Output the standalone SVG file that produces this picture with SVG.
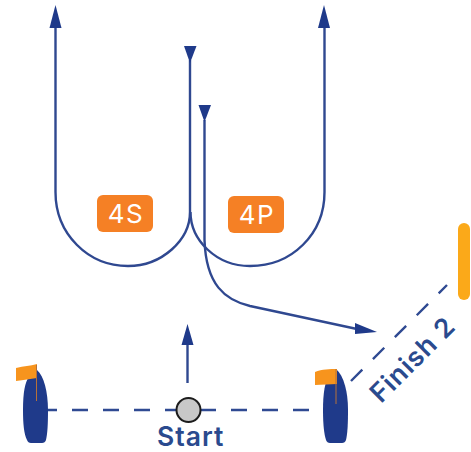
<svg xmlns="http://www.w3.org/2000/svg" width="471" height="452" viewBox="0 0 471 452">
<style>
.route{fill:none;stroke:#2f4890;stroke-width:2.4}
.head{fill:#1f3a8a}
.dash{fill:none;stroke:#2f4a92;stroke-width:2.4;stroke-dasharray:16 15}
.hull{fill:#1f3a8a}
.flag{fill:#f7941d}
.bar{fill:#fba919}
.pole{fill:none;stroke:#b5703a;stroke-width:1}
.tag{fill:#f58025}
.tagt{font-family:Inter,"Noto Sans",sans-serif;font-size:26px;font-weight:400;letter-spacing:1.500px;fill:#fff;text-anchor:middle}
.lab{font-family:Inter,"Noto Sans",sans-serif;font-size:26.500px;font-weight:600;letter-spacing:1px;fill:#2a4a8e}
</style>
<rect width="471" height="452" fill="#fff"/>
<g id="connectors">
<path class="route" d="M55.500 26V192C55.500 234 88 266 128 266C162 266 190 240 190 212V60"/>
<path class="route" d="M324.500 26V192C324.500 234 292 266 250 266C216 266 190.500 240 190.500 212"/>
<path class="route" d="M204.500 120V240C206 285 225 300 250 306L357 329"/>
<path class="route" d="M187.500 383V344"/>
<path class="dash" d="M41 410H176M200 410H322"/>
<path class="dash" d="M351 381L447 285"/>
<polygon class="head" points="55.500,5 49.500,28 61.500,28"/>
<polygon class="head" points="324,5 318,28 330,28"/>
<polygon class="head" points="184,46 196.500,46 190,63"/>
<polygon class="head" points="198.500,105 211,105 204.500,122"/>
<polygon class="head" points="187.500,324 181.500,345 193.500,345"/>
<polygon class="head" points="377,332 355,323 355,334"/>
</g>
<g id="tag-4s"><rect class="tag" x="97" y="195" width="56" height="37" rx="6"/><text class="tagt" x="126" y="223">4S</text></g>
<g id="tag-4p"><rect class="tag" x="228" y="196" width="56" height="37" rx="6"/><text class="tagt" x="257" y="224">4P</text></g>
<g id="boat-left">
<path class="hull" d="M37 370C44 376 48 392 48 410C48 424 47.500 434 46 440Q45 443 42 443H31Q28 443 27 440C24 434 23 424 23 410C23 392 25 382 29 377Z"/>
<path class="flag" d="M16 368C24 366 30 366 37 364V378C30 379 24 380 16 381Z"/>
<path class="pole" d="M36.500 365V401"/>
</g>
<g id="boat-right">
<path class="hull" d="M336 369C344 376 348 392 348 410C348 424 347.500 434 346 440Q345 443 342 443H330Q327 443 326 440C324 434 323 424 323 410C323 392 325 382 329 376Z"/>
<path class="flag" d="M315 372C322 369 330 369 337 369V384C330 384 322 385 315 385Z"/>
<path class="pole" d="M336 369V404"/>
</g>
<g id="finish-mark"><rect class="bar" x="458" y="223" width="12" height="77" rx="6"/></g>
<g id="start"><circle cx="188.500" cy="410" r="12" fill="#c8c8c8" stroke="#1c1c1c" stroke-width="2"/><text class="lab" x="157" y="445.500">Start</text></g>
<g id="finish-label"><text class="lab" transform="translate(381 404) rotate(-45)">Finish 2</text></g>
</svg>
